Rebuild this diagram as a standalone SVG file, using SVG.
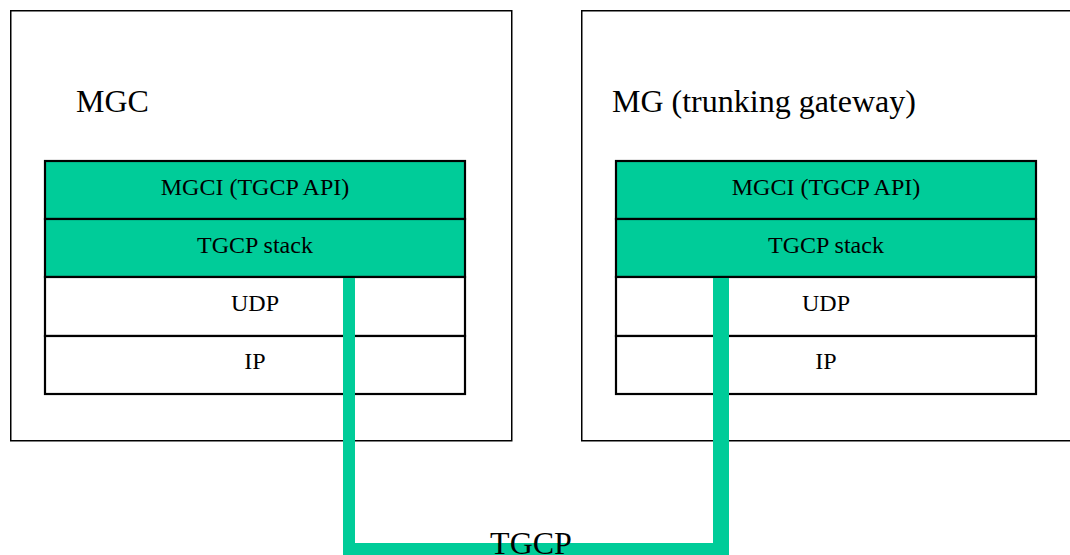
<svg xmlns="http://www.w3.org/2000/svg" width="1070" height="555" viewBox="0 0 1070 555">
<style>
.outer{fill:#fff;stroke:#000;stroke-width:1.5}
.layer{stroke:#000;stroke-width:2.2}
.g{fill:#00CC99}
.w{fill:#fff}
.t{font-family:"Liberation Serif","Times New Roman",serif;fill:#000}
.big{font-size:32px}
.sm{font-size:24px;text-anchor:middle}
</style>
<rect width="1070" height="555" fill="#fff"/>
<g id="mgc">
<rect class="outer" x="10.75" y="10.75" width="501" height="430"/>
<text class="t big" x="76" y="112">MGC</text>
<g id="mgc-stack">
<rect class="layer g" x="45" y="161" width="420" height="58"/>
<text class="t sm" x="255" y="195">MGCI (TGCP API)</text>
<rect class="layer g" x="45" y="219" width="420" height="58"/>
<text class="t sm" x="255" y="253">TGCP stack</text>
<rect class="layer w" x="45" y="277" width="420" height="59"/>
<text class="t sm" x="255" y="311">UDP</text>
<rect class="layer w" x="45" y="336" width="420" height="58"/>
<text class="t sm" x="255" y="369">IP</text>
</g>
</g>
<g id="mg">
<rect class="outer" x="581.75" y="10.75" width="500" height="430"/>
<text class="t big" x="612" y="112">MG (trunking gateway)</text>
<g id="mg-stack">
<rect class="layer g" x="616" y="161" width="420" height="58"/>
<text class="t sm" x="826" y="195">MGCI (TGCP API)</text>
<rect class="layer g" x="616" y="219" width="420" height="58"/>
<text class="t sm" x="826" y="253">TGCP stack</text>
<rect class="layer w" x="616" y="277" width="420" height="59"/>
<text class="t sm" x="826" y="311">UDP</text>
<rect class="layer w" x="616" y="336" width="420" height="58"/>
<text class="t sm" x="826" y="369">IP</text>
</g>
</g>
<g id="connectors">
<path class="g" d="M343,278 L355,278 L355,543 L713,543 L713,278 L729,278 L729,560 L343,560 Z"/>
<text class="t big" x="531" y="554" text-anchor="middle">TGCP</text>
</g>
</svg>
